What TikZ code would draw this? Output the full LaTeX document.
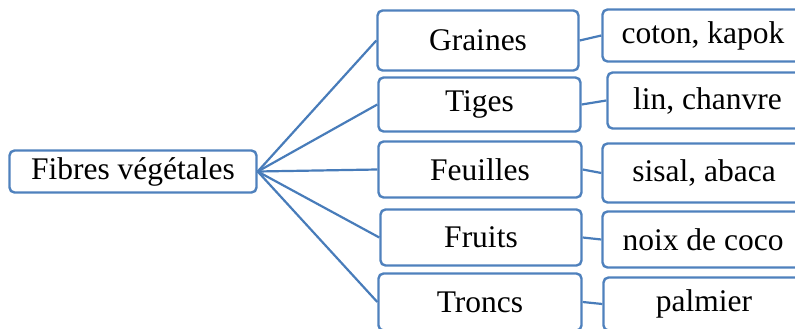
\documentclass[tikz,border=0pt]{standalone}
\usepackage{fontspec}
\setmainfont{Liberation Serif}
\definecolor{boxblue}{RGB}{79,129,189}
\definecolor{lineblue}{RGB}{72,124,186}
\begin{document}
\begin{tikzpicture}[x=1pt,y=-1pt,
  box/.style={draw=boxblue, line width=2.4pt, rounded corners=5pt, fill=white,
    inner sep=0pt, align=center, font=\fontsize{31.5}{38}\selectfont},
  conn/.style={draw=lineblue, line width=2.2pt}]
\useasboundingbox (0,0) rectangle (795,329);
\clip (0,0) rectangle (795,329);
% root
\node[box, minimum width=247pt, minimum height=42pt] (fib) at (133,171.5) {Fibres végétales};
% middle column
\node[box, minimum width=201pt, minimum height=60pt] (gra) at (478,40.5) {Graines};
\node[box, minimum width=202pt, minimum height=54pt] (tig) at (479.5,104.5) {Tiges};
\node[box, minimum width=203pt, minimum height=56pt] (feu) at (480,169.5) {Feuilles};
\node[box, minimum width=201pt, minimum height=56pt] (fru) at (481,237.5) {Fruits};
\node[box, minimum width=203pt, minimum height=57pt] (tro) at (480,302) {Troncs};
% right column
\node[box, minimum width=201pt, minimum height=52pt] (cot) at (703,35.5) {coton, kapok};
\node[box, minimum width=200pt, minimum height=56pt] (lin) at (707.5,100.5) {lin, chanvre};
\node[box, minimum width=203pt, minimum height=59pt] (sis) at (704,173) {sisal, abaca};
\node[box, minimum width=201pt, minimum height=56pt] (noi) at (703,239.5) {noix de coco};
\node[box, minimum width=201pt, minimum height=53pt] (pal) at (704,304) {palmier};
% connectors
\foreach \m in {gra,tig,feu,fru,tro}
  \draw[conn] (fib.east) -- (\m.west);
\draw[conn] (gra.east) -- (cot.west);
\draw[conn] (tig.east) -- (lin.west);
\draw[conn] (feu.east) -- (sis.west);
\draw[conn] (fru.east) -- (noi.west);
\draw[conn] (tro.east) -- (pal.west);
\end{tikzpicture}
\end{document}
